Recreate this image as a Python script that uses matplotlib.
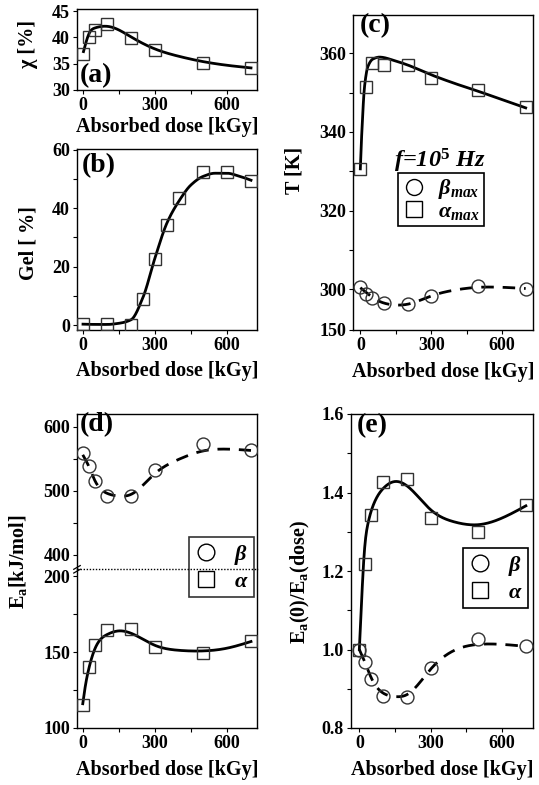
import numpy as np
import matplotlib
matplotlib.use("Agg")
import matplotlib.pyplot as plt
from matplotlib.lines import Line2D

plt.rcParams['font.family'] = ['Liberation Serif', 'DejaVu Serif']
plt.rcParams['font.weight'] = 'bold'
plt.rcParams['axes.labelweight'] = 'bold'
plt.rcParams['mathtext.fontset'] = 'custom'
plt.rcParams['mathtext.rm'] = 'Liberation Serif:bold'
plt.rcParams['mathtext.it'] = 'Liberation Serif:italic:bold'
plt.rcParams['mathtext.bf'] = 'Liberation Serif:bold'

# ---------------- data ----------------
# (a) crystallinity
dose_a = [0, 25, 50, 100, 200, 300, 500, 700]
chi = [36.9, 40.1, 41.5, 42.5, 39.8, 37.6, 35.1, 34.1]
fit_a_x = [2, 25, 50, 80, 115, 200, 300, 400, 500, 600, 700]
fit_a_y = [37.3, 40.7, 41.8, 42.1, 42.0, 40.1, 37.8, 36.4, 35.4, 34.7, 34.2]

# (b) gel fraction
dose_b = [0, 100, 200, 250, 300, 350, 400, 500, 600, 700]
gel = [0.2, 0.2, 0.0, 8.8, 22.6, 34.3, 43.4, 52.3, 52.3, 49.5]
fit_b_x = [0, 100, 150, 200, 250, 300, 350, 400, 450, 500, 550, 600, 650, 700]
fit_b_y = [0.3, 0.2, 0.6, 1.8, 9.5, 23.0, 35.0, 42.5, 48.0, 50.9, 52.0, 52.0, 51.0, 49.6]

# (c) relaxation temperatures
dose = [0, 25, 50, 100, 200, 300, 500, 700]
T_alpha = [330.6, 351.4, 357.6, 357.1, 357.1, 353.7, 350.6, 346.4]
T_beta = [300.7, 298.7, 297.8, 296.4, 296.2, 298.4, 300.9, 300.0]
fit_Ta_x = [0, 7, 18, 32, 53, 81, 150, 200, 300, 400, 500, 600, 700]
fit_Ta_y = [330.6, 340.7, 351.6, 356.6, 358.5, 359.0, 358.0, 357.0, 354.5, 352.3, 350.3, 348.2, 346.1]
fit_Tb_x = [0, 25, 50, 100, 150, 200, 300, 400, 500, 600, 700]
fit_Tb_y = [300.4, 299.2, 298.0, 296.5, 296.0, 296.2, 298.3, 299.8, 300.5, 300.5, 300.2]

# (d) activation energies
E_beta = [558.7, 539.0, 515.8, 491.5, 491.5, 531.8, 572.6, 562.8]
E_alpha = [115.0, 140.0, 154.4, 164.7, 165.1, 153.3, 149.3, 157.2]
fit_Eb_x = [0, 25, 50, 100, 150, 200, 300, 400, 500, 600, 700]
fit_Eb_y = [556, 538, 516, 496, 491.5, 494, 526.6, 549, 562, 564.9, 562.8]
fit_Ea_x = [0, 10, 25, 50, 100, 150, 200, 300, 400, 500, 600, 700]
fit_Ea_y = [116, 127, 139, 152, 161.5, 164, 162.5, 154.5, 151.2, 150.8, 152.6, 157]

# (e) ratios
R_alpha = [1.0, 1.218, 1.343, 1.428, 1.434, 1.334, 1.300, 1.368]
R_beta = [1.0, 0.967, 0.925, 0.882, 0.880, 0.952, 1.026, 1.009]
fit_Ra_x = [0, 10, 20, 36, 60, 100, 150, 200, 300, 400, 500, 600, 700]
fit_Ra_y = [1.0, 1.13, 1.24, 1.32, 1.37, 1.41, 1.428, 1.417, 1.356, 1.325, 1.318, 1.335, 1.366]
fit_Rb_x = [0, 25, 50, 100, 150, 200, 300, 400, 500, 600, 700]
fit_Rb_y = [1.0, 0.965, 0.928, 0.889, 0.880, 0.885, 0.950, 0.998, 1.013, 1.013, 1.008]

xticks = [0, 300, 600]
xminor = [150, 450]
xlabel = 'Absorbed dose [kGy]'


def pchip(x, y, xn):
    x = np.asarray(x, float); y = np.asarray(y, float)
    h = np.diff(x); d = np.diff(y) / h
    n = len(x); m = np.zeros(n)
    for k in range(1, n - 1):
        if d[k - 1] * d[k] <= 0:
            m[k] = 0.0
        else:
            w1 = 2 * h[k] + h[k - 1]; w2 = h[k] + 2 * h[k - 1]
            m[k] = (w1 + w2) / (w1 / d[k - 1] + w2 / d[k])

    def end(h0, h1, d0, d1):
        s = ((2 * h0 + h1) * d0 - h0 * d1) / (h0 + h1)
        if np.sign(s) != np.sign(d0):
            s = 0.0
        elif np.sign(d0) != np.sign(d1) and abs(s) > 3 * abs(d0):
            s = 3 * d0
        return s
    m[0] = end(h[0], h[1], d[0], d[1])
    m[-1] = end(h[-1], h[-2], d[-1], d[-2])
    xn = np.asarray(xn, float)
    idx = np.clip(np.searchsorted(x, xn) - 1, 0, n - 2)
    t = (xn - x[idx]) / h[idx]
    h00 = 2 * t**3 - 3 * t**2 + 1; h10 = t**3 - 2 * t**2 + t
    h01 = -2 * t**3 + 3 * t**2; h11 = t**3 - t**2
    return h00 * y[idx] + h10 * h[idx] * m[idx] + h01 * y[idx + 1] + h11 * h[idx] * m[idx + 1]


def cspline(x, y, xn):
    x = np.asarray(x, float); y = np.asarray(y, float)
    n = len(x); h = np.diff(x)
    A = np.zeros((n, n)); r = np.zeros(n)
    A[0, 0] = 1; A[-1, -1] = 1
    for i in range(1, n - 1):
        A[i, i - 1] = h[i - 1]; A[i, i] = 2 * (h[i - 1] + h[i]); A[i, i + 1] = h[i]
        r[i] = 6 * ((y[i + 1] - y[i]) / h[i] - (y[i] - y[i - 1]) / h[i - 1])
    M = np.linalg.solve(A, r)
    xn = np.asarray(xn, float)
    i = np.clip(np.searchsorted(x, xn) - 1, 0, n - 2)
    a = x[i + 1] - xn; b = xn - x[i]
    return (M[i] * a**3 / (6 * h[i]) + M[i + 1] * b**3 / (6 * h[i])
            + (y[i] / h[i] - M[i] * h[i] / 6) * a + (y[i + 1] / h[i] - M[i + 1] * h[i] / 6) * b)


def curve(ax, fx, fy, dashed=False, smooth=True):
    xx = np.linspace(fx[0], fx[-1], 500)
    yy = cspline(fx, fy, xx) if smooth else pchip(fx, fy, xx)
    kw = dict(color='k', lw=2.0, zorder=2)
    if dashed:
        ax.plot(xx, yy, ls=(0, (4.5, 3.2)), **kw)
    else:
        ax.plot(xx, yy, ls='-', **kw)


def pts(ax, x, y, marker):
    ms = 8.3 if marker == 's' else 9.3
    ax.plot(x, y, ls='none', marker=marker, ms=ms, mfc='none', mec='#333333',
            mew=1.0, zorder=3)


W, H = 539, 785
fig = plt.figure(figsize=(W / 100, H / 100), dpi=100)


def rect(l, t, r, b):
    return [l / W, 1 - b / H, (r - l) / W, (b - t) / H]


def style(ax, xlim, ylim):
    ax.set_xlim(*xlim); ax.set_ylim(*ylim)
    ax.set_xticks(xticks); ax.set_xticks(xminor, minor=True)
    ax.tick_params(which='both', direction='out', length=3, width=0.8,
                   labelsize=13, pad=2)
    for s in ax.spines.values():
        s.set_linewidth(1.0)


def place_labels(ax, box, xl_y, yl_xy, ylabel):
    l, t, r, b = box
    ax.set_xlabel(xlabel, fontsize=14.5, va='center')
    ax.xaxis.set_label_coords(0.5, (b - xl_y) / (b - t))
    if ylabel is not None:
        ax.set_ylabel(ylabel, fontsize=14.5, va='center')
        ax.yaxis.set_label_coords((yl_xy[0] - l) / (r - l), (b - yl_xy[1]) / (b - t))


def mk_handles(ms=12):
    return [Line2D([], [], ls='none', marker='o', ms=ms, mfc='none', mec='k', mew=1.0),
            Line2D([], [], ls='none', marker='s', ms=ms, mfc='none', mec='k', mew=1.0)]


lab_fs = 20
leg_kw = dict(fontsize=16, frameon=True, fancybox=False, edgecolor='k',
              borderpad=0.25, labelspacing=0.2, handlelength=1.0,
              handletextpad=0.75, borderaxespad=0)

# ---- (a)
box_a = (77, 9, 257, 90)
ax = fig.add_axes(rect(*box_a))
style(ax, (-25, 725), (30, 45.4))
ax.set_yticks([30, 35, 40, 45])
curve(ax, fit_a_x, fit_a_y)
pts(ax, dose_a, chi, 's')
ax.text(0.017, 0.173, '(a)', transform=ax.transAxes, fontsize=lab_fs, va='center', ha='left')
place_labels(ax, box_a, 127, (28, 44), 'χ [%]')

# ---- (b)
box_b = (77, 149, 257, 330)
ax = fig.add_axes(rect(*box_b))
style(ax, (-25, 725), (-1.7, 60.3))
ax.set_yticks([0, 20, 40, 60]); ax.set_yticks([10, 30, 50], minor=True)
curve(ax, fit_b_x, fit_b_y, smooth=False)
pts(ax, dose_b, gel, 's')
ax.text(0.028, 0.906, '(b)', transform=ax.transAxes, fontsize=lab_fs, va='center', ha='left')
place_labels(ax, box_b, 371, (28, 243), 'Gel [ %]')

# ---- (c)
box_c = (353, 15, 533, 330)
ax = fig.add_axes(rect(*box_c))
yb = 289.65
style(ax, (-31, 731), (yb, 369.7))
ax.set_yticks([yb, 300, 320, 340, 360])
ax.set_yticklabels(['150', '300', '320', '340', '360'])
ax.set_yticks([310, 330, 350], minor=True)
curve(ax, fit_Ta_x, fit_Ta_y, smooth=False)
curve(ax, fit_Tb_x, fit_Tb_y, dashed=True)
pts(ax, dose, T_alpha, 's')
pts(ax, dose, T_beta, 'o')
ax.text(0.039, 0.965, '(c)', transform=ax.transAxes, fontsize=lab_fs, va='center', ha='left')
ax.text(0.483, 0.537, r'$f$=10$^5$ Hz', transform=ax.transAxes, fontsize=17.5,
        va='center', ha='center', fontstyle='italic')
place_labels(ax, box_c, 372, (294, 170), 'T [K]')
leg = ax.legend(mk_handles(11.5), [r'$\beta_{max}$', r'$\alpha_{max}$'], loc='upper left',
                bbox_to_anchor=((398 - 353) / 180, (330 - 173) / 315),
                framealpha=1, **dict(leg_kw, fontsize=16, handletextpad=0.6,
                                     labelspacing=0.0, borderpad=0.2))
leg.get_frame().set_linewidth(1.2)

# ---- (d) broken axis
box_dt = (77, 414, 257, 569.3)
box_db = (77, 569.3, 257, 728)
axb = fig.add_axes(rect(*box_db))
axt = fig.add_axes(rect(*box_dt))
style(axb, (-24, 725), (100, 204.6))
style(axt, (-24, 725), (377, 619.8))
axb.set_yticks([100, 150, 200]); axb.set_yticks([125, 175], minor=True)
axt.set_yticks([400, 500, 600]); axt.set_yticks([450, 550], minor=True)
axt.spines['bottom'].set_visible(False)
axb.spines['top'].set_visible(False)
axt.tick_params(axis='x', which='both', bottom=False, labelbottom=False)
axt.set_facecolor('none')
axt.plot([0, 1], [0, 0], transform=axt.transAxes, ls=(0, (1, 1.2)), color='k',
         lw=1.0, clip_on=False)
for dy in (-0.012, 0.012):
    axt.plot([-0.018, 0.018], [dy - 0.012, dy + 0.012], transform=axt.transAxes,
             color='k', lw=0.9, clip_on=False)
curve(axt, fit_Eb_x, fit_Eb_y, dashed=True)
pts(axt, dose, E_beta, 'o')
curve(axb, fit_Ea_x, fit_Ea_y)
pts(axb, dose, E_alpha, 's')
axt.text(0.017, 0.932, '(d)', transform=axt.transAxes, fontsize=lab_fs, va='center', ha='left')
place_labels(axb, box_db, 770, None, None)
fig.text(18 / W, 1 - 562 / H, r'$\mathbf{E_a}$[kJ/mol]', rotation=90, fontsize=14.5,
         ha='center', va='center')
legd = fig.legend(mk_handles(), [r'$\beta$', r'$\alpha$'], loc='upper right',
                  bbox_to_anchor=(254 / W, 1 - 537 / H), facecolor='none', **leg_kw)
legd.get_frame().set_linewidth(1.2)

# ---- (e)
box_e = (351, 414, 533, 728)
ax = fig.add_axes(rect(*box_e))
style(ax, (-35, 730), (0.8, 1.6))
ax.set_yticks([0.8, 1.0, 1.2, 1.4, 1.6])
ax.set_yticks([0.9, 1.1, 1.3, 1.5], minor=True)
ax.yaxis.set_major_formatter(matplotlib.ticker.FormatStrFormatter('%.1f'))
curve(ax, fit_Ra_x, fit_Ra_y)
curve(ax, fit_Rb_x, fit_Rb_y, dashed=True)
pts(ax, dose, R_alpha, 's')
pts(ax, dose, R_beta, 'o')
ax.text(0.033, 0.962, '(e)', transform=ax.transAxes, fontsize=lab_fs, va='center', ha='left')
place_labels(ax, box_e, 770, (300, 582), r'$\mathbf{E_a}$(0)/$\mathbf{E_a}$(dose)')
lege = ax.legend(mk_handles(), [r'$\beta$', r'$\alpha$'], loc='upper right',
                 bbox_to_anchor=((528 - 351) / 182, (728 - 548) / 314),
                 framealpha=1, **leg_kw)
lege.get_frame().set_linewidth(1.2)

fig.savefig('out.png', dpi=100)
